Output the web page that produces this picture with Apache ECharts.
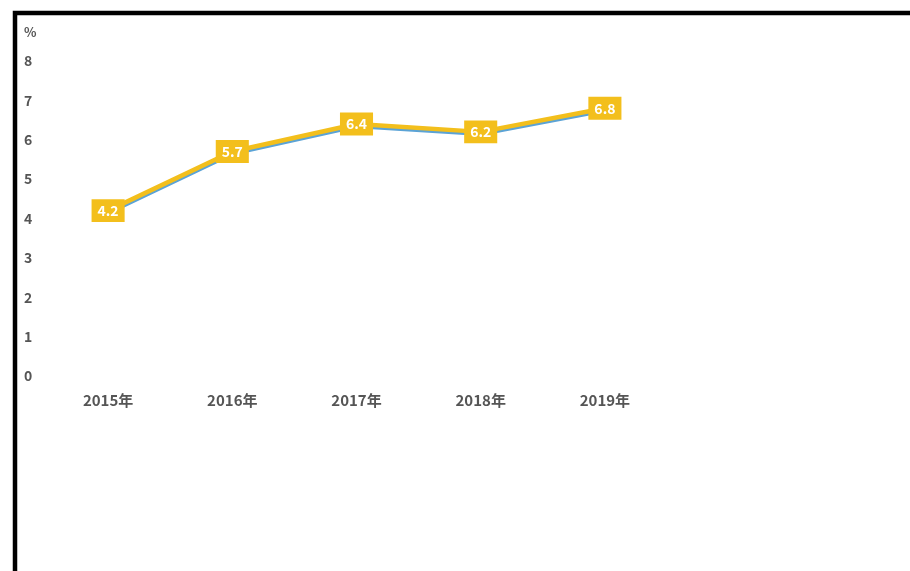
<!DOCTYPE html>
<html>
<head>
<meta charset="utf-8">
<style>
  html, body { margin: 0; padding: 0; background: #fff; }
  #chart { width: 910px; height: 571px; }
</style>
<script src="https://cdn.jsdelivr.net/npm/echarts@6/dist/echarts.min.js"></script>
</head>
<body>
<div id="chart"></div>
<script>
// Annual growth rate, percent
const years = ['2015年', '2016年', '2017年', '2018年', '2019年'];
const rates = [4.2, 5.7, 6.4, 6.2, 6.8];
const yTicks = { min: 0, max: 8, interval: 1 };

const chart = echarts.init(document.getElementById('chart'));
const fontFamily = '"Noto Sans CJK SC", "Open Sans", sans-serif';
const textGrey = '#555555';

chart.setOption({
  animation: false,
  backgroundColor: '#ffffff',
  grid: { left: 46, right: 243, top: 61, bottom: 195 },
  graphic: [{
    type: 'rect',
    shape: { x: 15, y: 13, width: 1200, height: 1000 },
    style: { fill: 'none', stroke: '#000', lineWidth: 4.5 },
    silent: true
  }],
  xAxis: {
    type: 'category',
    data: years,
    boundaryGap: true,
    axisLine: { show: false },
    axisTick: { show: false },
    axisLabel: { color: textGrey, fontSize: 15, fontWeight: 'bold', fontFamily: fontFamily, margin: 17 }
  },
  yAxis: {
    type: 'value',
    min: yTicks.min, max: yTicks.max, interval: yTicks.interval,
    name: '%',
    nameLocation: 'end',
    nameGap: 22,
    nameTextStyle: { color: textGrey, fontSize: 13, fontWeight: 'bold', fontFamily: fontFamily, align: 'left', padding: [0, 0, 0, -22] },
    axisLine: { show: false },
    axisTick: { show: false },
    splitLine: { show: false },
    axisLabel: { color: textGrey, fontSize: 14, fontWeight: 'bold', fontFamily: fontFamily, align: 'left', margin: 22 }
  },
  series: [{
    type: 'line',
    data: rates,
    symbol: 'rect',
    symbolSize: [1, 1],
    itemStyle: { color: '#F3BF1C' },
    lineStyle: {
      color: '#F3BF1C', width: 4.5,
      shadowColor: '#5BA3D6', shadowBlur: 0, shadowOffsetY: 2
    },
    label: {
      show: true,
      position: 'inside',
      color: '#ffffff',
      fontWeight: 'bold',
      fontSize: 14,
      fontFamily: fontFamily,
      backgroundColor: '#F3BF1C',
      padding: [5, 6, 4, 6],
      formatter: p => p.value.toFixed(1)
    }
  }]
});
</script>
</body>
</html>
